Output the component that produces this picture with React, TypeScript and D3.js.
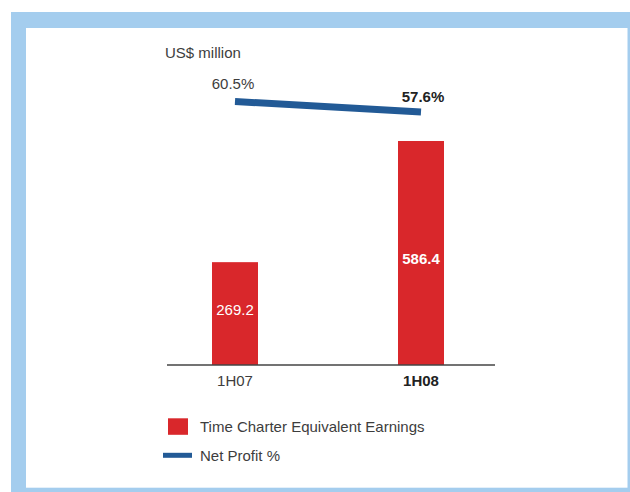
import React from "react";
import * as d3 from "d3";

const categories = ["1H07", "1H08"];
const earnings = [269.2, 586.4];
const netProfitPct = [60.5, 57.6];
const boldCategory = [false, true];
const labelFrac = [0.5, 0.455];
const unitLabel = "US$ million";
const legendItems = ["Time Charter Equivalent Earnings", "Net Profit %"];

const W = 630;
const H = 492;
const RED = "#d9272b";
const BLUE = "#225a96";
const FRAME = "#a4cdee";
const TEXT = "#3d3d3d";
const FONT = "'Liberation Sans', Arial, Helvetica, sans-serif";

export default function App() {
  const x = d3.scalePoint<string>().domain(categories).range([235, 421]);
  const y = d3.scaleLinear().domain([0, 600]).range([365, 135.8]);
  const yPct = d3.scaleLinear().domain([55, 65]).range([121.4, 85.2]);
  const barW = 46;

  const linePath = d3
    .line<number>()
    .x((_, i) => x(categories[i]) as number)
    .y((d) => yPct(d))(netProfitPct) as string;

  return (
    <div style={{ position: "absolute", left: 0, top: 0 }}>
      <svg width={W} height={H} style={{ display: "block", fontFamily: FONT }}>
        <rect x={0} y={0} width={W} height={H} fill="#ffffff" />
        <rect x={11} y={12} width={W - 11} height={H - 12} fill={FRAME} />
        <rect x={26} y={28} width={601.5} height={459.7} fill="#ffffff" />

        <text x={165} y={58} fontSize={15} fill={TEXT}>
          {unitLabel}
        </text>

        {categories.map((c, i) => (
          <rect
            key={c}
            x={(x(c) as number) - barW / 2}
            y={y(earnings[i])}
            width={barW}
            height={y(0) - y(earnings[i])}
            fill={RED}
          />
        ))}

        {categories.map((c, i) => (
          <text
            key={"v" + c}
            x={x(c) as number}
            y={y(earnings[i] * labelFrac[i]) + 1}
            fontSize={15}
            fontWeight={boldCategory[i] ? "bold" : "normal"}
            fill="#ffffff"
            textAnchor="middle"
          >
            {earnings[i].toFixed(1)}
          </text>
        ))}

        <line x1={167} x2={495} y1={365} y2={365} stroke="#444" strokeWidth={1.5} />

        {categories.map((c, i) => (
          <text
            key={"t" + c}
            x={x(c) as number}
            y={386}
            fontSize={15}
            fontWeight={boldCategory[i] ? "bold" : "normal"}
            fill={boldCategory[i] ? "#222" : TEXT}
            textAnchor="middle"
          >
            {c}
          </text>
        ))}

        <path d={linePath} fill="none" stroke={BLUE} strokeWidth={7} />

        {categories.map((c, i) => (
          <text
            key={"p" + c}
            x={(x(c) as number) + (boldCategory[i] ? 2 : -2)}
            y={yPct(netProfitPct[i]) - (boldCategory[i] ? 10 : 12.5)}
            fontSize={15}
            fontWeight={boldCategory[i] ? "bold" : "normal"}
            fill={boldCategory[i] ? "#222" : TEXT}
            textAnchor="middle"
          >
            {netProfitPct[i].toFixed(1) + "%"}
          </text>
        ))}

        <rect x={168} y={418.3} width={20} height={16.5} fill={RED} />
        <text x={200} y={432.3} fontSize={15} fill={TEXT}>
          {legendItems[0]}
        </text>
        <line x1={163} x2={192} y1={455.3} y2={455.3} stroke={BLUE} strokeWidth={5} />
        <text x={200} y={460.7} fontSize={15} fill={TEXT}>
          {legendItems[1]}
        </text>
      </svg>
    </div>
  );
}
